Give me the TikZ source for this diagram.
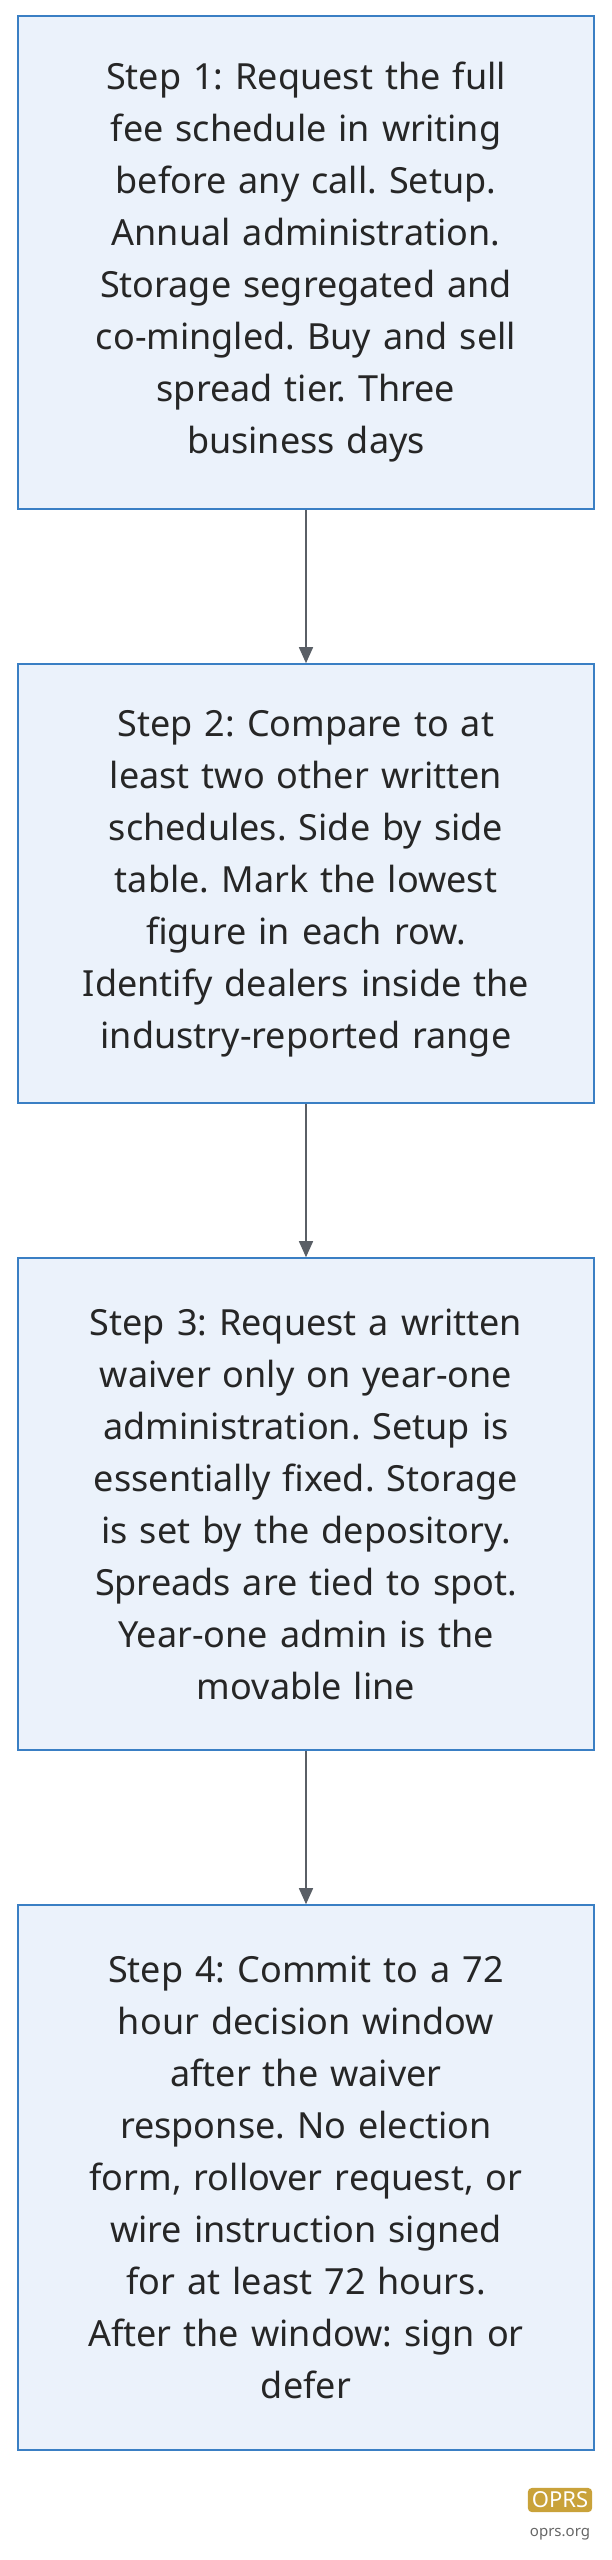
\documentclass[tikz,border=0pt]{standalone}
\usepackage{fontspec}
\setmainfont{Noto Sans}
\usetikzlibrary{arrows.meta}
\definecolor{boxfill}{HTML}{EBF2FB}
\definecolor{boxline}{HTML}{3A7FC4}
\definecolor{arr}{HTML}{5A5F66}
\definecolor{gold}{HTML}{C9A23A}
\begin{document}
\frenchspacing
\begin{tikzpicture}[x=1pt,y=-1pt,
  stepbox/.style={draw=boxline,line width=1.6pt,fill=boxfill,minimum width=576pt,align=center,
    font=\frenchspacing\fontsize{36}{52}\selectfont,text=black!85,text width=540pt,inner sep=0pt},
  conn/.style={draw=arr,line width=1.5pt,-{Triangle[length=16pt,width=14pt]}}]
\useasboundingbox (0,0) rectangle (612,2560);
\node[stepbox,minimum height=493pt] (s1) at (306,262.5) {Step 1: Request the full\\fee schedule in writing\\before any call. Setup.\\Annual administration.\\Storage segregated and\\co-mingled. Buy and sell\\spread tier. Three\\business days};
\node[stepbox,minimum height=439pt] (s2) at (306,883.5) {Step 2: Compare to at\\least two other written\\schedules. Side by side\\table. Mark the lowest\\figure in each row.\\Identify dealers inside the\\industry-reported range};
\node[stepbox,minimum height=492pt] (s3) at (306,1504) {Step 3: Request a written\\waiver only on year-one\\administration. Setup is\\essentially fixed. Storage\\is set by the depository.\\Spreads are tied to spot.\\Year-one admin is the\\movable line};
\node[stepbox,minimum height=545pt] (s4) at (306,2177.5) {Step 4: Commit to a 72\\hour decision window\\after the waiver\\response. No election\\form, rollover request, or\\wire instruction signed\\for at least 72 hours.\\After the window: sign or\\defer};
\draw[conn] (s1) -- (s2);
\draw[conn] (s2) -- (s3);
\draw[conn] (s3) -- (s4);
\node[fill=gold,rounded corners=4pt,text=white,font=\bfseries\fontsize{22}{22}\selectfont,inner sep=4pt] (logo) at (560,2500) {OPRS};
\node[text=black!60,font=\bfseries\fontsize{15}{15}\selectfont] (url) at (560,2534) {oprs.org};
\end{tikzpicture}
\end{document}
